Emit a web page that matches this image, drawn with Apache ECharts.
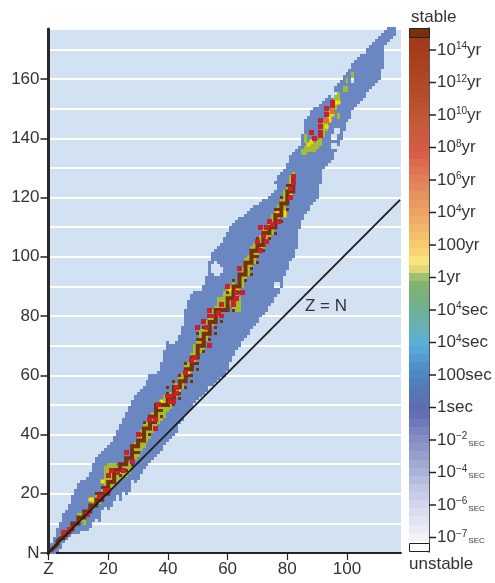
<!DOCTYPE html>
<html><head><meta charset="utf-8">
<style>html,body{margin:0;padding:0;background:#fff}#c{width:495px;height:583px}</style>
<script src="https://cdn.jsdelivr.net/npm/echarts@6/dist/echarts.min.js"></script>
</head><body><div id="c"></div>
<script>
// Known-nuclide band: for proton number Z = 1, 2, ... the lowest and highest neutron number drawn
const bandLow = [0,0,1,2,4,5,6,7,7,7,8,8,8,9,11,12,11,15,16,15,16,18,20,18,21,20,21,25,24,25,27,29,30,31,32,33,34,35,37,38,39,40,41,44,45,47,48,49,51,52,53,54,55,57,57,58,59,60,60,62,65,67,69,70,72,73,74,76,77,78,80,81,82,84,85,87,88,90,94,96,99,100,103,110,113,115,116,118,119,120,125,130,131,132,133,136,138,140,143,146,147,150,151,152,153,154,156,157,158,159,160,164,172,173,174,175];
const bandHigh = [3,5,8,10,13,14,16,19,21,23,24,24,25,27,30,32,33,34,35,36,37,39,41,43,45,47,49,51,53,54,55,56,58,60,60,60,61,64,68,71,70,70,71,73,76,82,85,87,88,88,88,90,93,98,101,102,103,104,106,108,110,111,112,113,113,114,115,116,117,117,118,119,119,120,121,125,127,128,129,131,134,135,136,137,141,146,147,149,150,150,151,152,153,154,155,157,158,159,161,162,163,165,166,167,168,168,170,171,172,173,174,175,176,177,177,177];
// Pale holes inside the band: [Z, N]
const bandGaps = [[55,95],[55,96],[55,97],[56,94],[56,95],[56,96],[56,97],[56,98],[57,94],[57,95],[57,96],[57,97],[58,95],[58,96],[76,90],[76,91],[77,90],[77,91],[102,159],[102,160],[95,154],[95,155],[96,154],[96,155],[96,142],[96,143],[97,142],[97,143],[95,140],[95,141],[96,140],[96,141],[95,137],[95,138],[96,137],[96,138],[76,123],[76,124]];
// Half-life classes: runs [Z, first N, last N] and single cells [Z, N]
const greenRuns = [[10,12,13],[11,11,13],[12,10,13],[15,17,18],[16,16,19],[17,17,20],[18,18,22],[19,22,29],[20,22,30],[21,22,30],[22,23,30],[23,24,29],[24,25,29],[25,26,30],[26,26,30],[27,27,30],[28,31,36],[29,32,37],[30,33,40],[31,35,41],[32,36,43],[33,38,44],[34,39,44],[35,41,47],[36,42,48],[37,44,50],[38,45,51],[39,46,53],[40,48,53],[41,49,54],[42,50,56],[43,53,57],[44,54,59],[45,56,60],[46,58,63],[47,60,64],[48,62,67],[49,64,70],[50,66,72],[51,68,75],[52,69,76],[53,72,78],[54,74,80],[55,77,82],[56,78,83],[57,80,86],[58,82,86],[59,82,88],[60,82,89],[61,84,90],[62,83,91],[63,82,87],[64,82,86],[64,88,94],[65,90,96],[66,92,99],[67,94,100],[68,96,103],[69,98,104],[70,100,106],[71,102,107],[72,103,109],[73,105,110],[74,107,112],[75,108,114],[76,110,116],[77,112,117],[78,114,120],[79,116,122],[80,118,124],[81,120,127],[82,122,128],[85,135,136],[86,135,137],[86,139,141],[87,136,137],[88,136,138],[89,136,138],[90,137,139],[91,138,141],[92,141,145],[93,143,146],[94,146,149],[95,148,152],[96,150,154],[97,147,148],[97,153,155],[99,156,157],[100,156,157],[100,159,160],[102,161,162]];
const yellowCells = [[14,18],[15,18],[18,24],[28,35],[38,51],[47,61],[61,89],[62,89],[63,89],[77,115],[79,114],[79,115],[80,121],[81,121],[87,138],[88,139],[89,140],[93,144],[94,146],[94,147],[95,148],[96,152],[97,152]];
const stableCells = [[16,20],[17,20],[18,22],[19,22],[20,22],[20,26],[21,24],[22,25],[24,26],[24,29],[26,28],[26,31],[27,32],[28,30],[28,33],[29,34],[30,34],[31,38],[31,40],[32,40],[32,44],[33,42],[34,40],[34,44],[35,44],[36,42],[36,44],[36,48],[37,48],[38,46],[38,48],[39,50],[40,54],[40,56],[41,52],[42,50],[42,54],[42,58],[44,52],[44,54],[44,60],[45,58],[46,56],[46,60],[46,64],[47,60],[47,62],[48,58],[48,60],[48,64],[49,64],[50,62],[50,64],[50,68],[50,72],[50,74],[51,70],[51,72],[52,68],[52,72],[52,76],[53,74],[54,70],[54,72],[54,76],[54,80],[54,82],[55,78],[56,74],[56,76],[56,80],[57,82],[58,78],[58,80],[58,84],[59,82],[60,84],[60,88],[60,90],[62,82],[62,88],[62,92],[63,90],[64,88],[64,92],[64,96],[65,94],[66,92],[66,96],[67,98],[68,94],[68,96],[68,100],[69,100],[70,98],[70,100],[70,106],[71,104],[72,102],[72,106],[73,108],[74,106],[74,112],[75,110],[76,108],[76,112],[76,116],[77,114],[77,116],[78,112],[78,116],[78,120],[79,118],[80,116],[80,120],[80,124],[81,122],[81,124],[82,124]];
const pathZ = [1,2,3,3,4,5,5,6,6,7,7,8,8,10,10,12,12,14,14,16,16,18,18,20,20,22,22,24,24,26,26,28,28,30,30,32,32,34,34,36,36,38,40,40,42,42,44,44,46,46,48,48,50,50,52,52,54,54,56,56,58,60,60,62,62,64,64,66,66,68,68,70,70,72,72,74,74,76,76,78,78,80,80,82,82];
const pathN = [1,2,3,4,5,5,6,6,7,7,8,8,10,10,12,12,14,14,16,16,18,18,20,20,24,24,28,28,30,30,32,32,36,36,38,38,42,42,46,46,50,50,50,52,52,56,56,58,58,62,62,66,66,70,70,74,74,78,78,82,82,82,86,86,90,90,94,94,98,98,102,102,104,104,108,108,110,110,114,114,118,118,122,122,126];
const redCells = [[5,7],[7,8],[13,13],[17,19],[19,21],[20,21],[20,26],[21,28],[23,27],[25,28],[26,34],[28,31],[30,40],[34,45],[36,45],[36,42],[37,50],[41,51],[42,51],[40,53],[41,53],[43,54],[43,56],[46,61],[48,65],[49,66],[50,76],[52,78],[53,76],[54,70],[54,82],[54,80],[55,80],[57,81],[58,80],[58,84],[60,90],[62,84],[62,85],[63,86],[63,88],[65,88],[64,96],[71,102],[70,105],[72,107],[73,105],[73,110],[71,110],[74,112],[75,111],[77,112],[81,120],[81,123],[82,125],[82,127],[88,142],[91,144],[91,142],[89,140],[91,141],[91,146],[93,150],[93,148],[95,152],[95,151]];
const orangeCells = [[95,149],[93,146]];
// Colour scale: band limits on the tick index (0 = 10^14yr ... 15 = 10^-7 sec) and colours
const scaleStops = [-0.4,-0.15,0.1,0.35,0.6,0.85,1.1,1.35,1.6,1.85,2.1,2.35,2.6,2.85,3.1,3.35,3.6,3.85,4.1,4.35,4.6,4.85,5.1,5.35,5.6,5.85,6.1,6.35,6.6,6.85,7.1,7.35,7.6,7.85,8.1,8.35,8.6,8.85,9.1,9.35,9.6,9.85,10.1,10.35,10.6,10.85,11.1,11.35,11.6,11.85,12.1,12.35,12.6,12.85,13.1,13.35,13.6,13.85,14.1,14.35,14.6,14.85,15.1,15.3];
const scaleColors = ['#a03a1a','#a43c1c','#a63f1e','#a94220','#ac4523','#ae4826','#b24b29','#b54e2c','#ba5130','#be5534','#c45839','#c95a3d','#ce5b41','#d35c45','#d85e49','#dc6a50','#df7455','#e27e58','#e4885b','#e6925e','#e99a60','#eba263','#eeac66','#f1b669','#f4c06c','#f7ca70','#f9d474','#fce47c','#e0d878','#a0c070','#80b46e','#7cb278','#76b084','#70b092','#6cb0a2','#68b0b2','#60b0c6','#5aaed8','#56a8da','#529cd2','#4e90c8','#4e88c2','#4f80bc','#5478b8','#5a72b6','#5e6cb2','#646eb6','#7078bc','#7a84c2','#848dc6','#8c95ca','#969ece','#a0a8d4','#abb2da','#b6bce0','#c0c6e4','#c8cce8','#d2d5ec','#dadcf0','#e2e4f2','#eaebf6','#f2f3fa','#ffffff'];
const scaleTicks = [['10','14','yr'],['10','12','yr'],['10','10','yr'],['10','8','yr'],['10','6','yr'],['10','4','yr'],['100','','yr'],['1','','yr'],['10','4','sec'],['10','4','sec'],['100','','sec'],['1','','sec'],['10','−2','SEC'],['10','−4','SEC'],['10','−6','SEC'],['10','−7','SEC']];
// Z = N reference line, read end to end
const lineZ = [-5.2, 117.75];
const lineN = [-5.06, 119.2];

const FONT = 'Liberation Sans, Helvetica, Arial, sans-serif', INK = '#333';
const bandCells = [];
const gapKey = new Set(bandGaps.map(g => g.join()));
bandLow.forEach((lo, i) => {
  const z = i + 1;
  for (let n = lo; n <= bandHigh[i]; n++) if (!gapKey.has(z + ',' + n)) bandCells.push([z, n]);
});
const greenCells = [];
greenRuns.forEach(r => { for (let n = r[1]; n <= r[2]; n++) greenCells.push([r[0], n]); });

function cellSeries(data, color, grow, z) {
  return { type: 'custom', xAxisIndex: 0, yAxisIndex: 0, silent: true, z: z, clip: false, data: data,
    renderItem: (p, api) => {
      const zv = api.value(0), nv = api.value(1);
      const a = api.coord([zv - 0.5, nv + 0.5]), b = api.coord([zv + 0.5, nv - 0.5]);
      const x0 = Math.round(a[0]) - grow, y0 = Math.round(a[1]) - grow;
      const x1 = Math.round(b[0]) + grow, y1 = Math.round(b[1]) + grow;
      return { type: 'rect', shape: { x: x0, y: y0, width: x1 - x0, height: y1 - y0 }, style: { fill: color } };
    } };
}
const scaleData = scaleColors.map((c, i) => [scaleStops[i], scaleStops[i + 1], c]);
const chart = echarts.init(document.getElementById('c'), null, { renderer: 'canvas' });
const rich = { b: { fontSize: 17, color: INK, fontFamily: FONT }, s: { fontSize: 10, color: INK, fontFamily: FONT, padding: [0, 0, 7, 0] }, c: { fontSize: 8, color: INK, fontFamily: FONT, padding: [7, 0, 0, 1] } };
chart.setOption({
  animation: false,
  grid: [
    { left: 48.5, top: 29, width: 352.5, height: 524, show: true, backgroundColor: '#d3e2f3', borderWidth: 0 },
    { left: 409, top: 28, width: 20, height: 524, show: false }
  ],
  xAxis: [
    { type: 'value', gridIndex: 0, min: 0, max: 118.09, interval: 20,
      axisLine: { show: true, onZero: false, lineStyle: { color: '#222', width: 2 } },
      axisTick: { show: true, length: 7, lineStyle: { color: '#222', width: 1.2 } }, splitLine: { show: false },
      axisLabel: { color: INK, fontSize: 17, fontFamily: FONT, margin: 8, showMaxLabel: false, formatter: v => v === 0 ? 'Z' : String(v) } },
    { type: 'value', gridIndex: 1, min: 0, max: 1, show: false }
  ],
  yAxis: [
    { type: 'value', gridIndex: 0, min: 0, max: 176.88, interval: 20,
      axisLine: { show: true, onZero: false, lineStyle: { color: '#2a2a2e', width: 3 } },
      axisTick: { show: true, length: 8, lineStyle: { color: '#222', width: 1.5 } },
      minorTick: { show: false, splitNumber: 2 },
      splitLine: { show: true, lineStyle: { color: '#fff', width: 2 } },
      minorSplitLine: { show: true, lineStyle: { color: '#fff', width: 2 } },
      axisLabel: { color: INK, fontSize: 17, fontFamily: FONT, margin: 9, showMaxLabel: false, formatter: v => v === 0 ? 'N' : String(v) } },
    { type: 'value', gridIndex: 1, position: 'right', inverse: true, min: -0.677, max: 15.446, interval: 1,
      axisLine: { show: true, onZero: false, lineStyle: { color: '#222', width: 1.5 } },
      axisTick: { show: false }, splitLine: { show: false }, axisLabel: { show: false } }
  ],
  series: [
    cellSeries(bandCells, '#6b87c2', 0, 2),
    cellSeries(greenCells, '#a3bd2e', 0, 3),
    cellSeries(yellowCells, '#f5dc00', 0.5, 4),
    cellSeries(stableCells, '#7a3008', 0, 5),
    { type: 'line', xAxisIndex: 0, yAxisIndex: 0, silent: true, z: 5, clip: false, symbol: 'none',
      data: pathZ.map((z, i) => [z, pathN[i]]), lineStyle: { color: '#7a3008', width: 4, join: 'miter', cap: 'square' } },
    cellSeries(redCells, '#c8202c', 1, 6),
    cellSeries(orangeCells, '#e8701c', 1, 6),
    { type: 'line', xAxisIndex: 0, yAxisIndex: 0, silent: true, z: 8, clip: false, symbol: 'none',
      data: lineZ.map((z, i) => [z, lineN[i]]), lineStyle: { color: '#1c1c1c', width: 1.8 } },
    { type: 'custom', xAxisIndex: 1, yAxisIndex: 1, silent: true, z: 3, clip: false,
      data: scaleData,
      renderItem: (p, api) => {
        const a = api.coord([0, api.value(0)]), b = api.coord([1, api.value(1)]);
        const y0 = Math.round(a[1]), y1 = Math.round(b[1]);
        return { type: 'rect', shape: { x: a[0], y: y0, width: b[0] - a[0], height: y1 - y0 }, style: { fill: scaleColors[p.dataIndex] } };
      } },
    { type: 'custom', xAxisIndex: 1, yAxisIndex: 1, silent: true, z: 4, clip: false,
      data: scaleTicks.map((t, i) => [i, t]),
      renderItem: (p, api) => {
        const c = api.coord([1, p.dataIndex]), t = scaleTicks[p.dataIndex];
        const txt = '{b|' + t[0] + '}' + (t[1] ? '{s|' + t[1] + '}' : '') + (t[2] === 'SEC' ? '{c|SEC}' : '{b|' + t[2] + '}');
        return { type: 'group', children: [
          { type: 'line', shape: { x1: c[0], y1: c[1], x2: c[0] + 7, y2: c[1] }, style: { stroke: '#222', lineWidth: 1.5 } },
          { type: 'text', x: c[0] + 8, y: c[1], style: { text: txt, rich: rich, verticalAlign: 'middle', align: 'left', fill: INK } }
        ] };
      } }
  ],
  graphic: [
    { type: 'rect', z: 20, shape: { x: 409.5, y: 28.5, width: 20, height: 9 }, style: { fill: '#7a3008', stroke: '#222', lineWidth: 1 } },
    { type: 'rect', z: 20, shape: { x: 409.5, y: 543.5, width: 20, height: 8 }, style: { fill: '#fff', stroke: '#222', lineWidth: 1 } },
    { type: 'text', z: 20, x: 411, y: 9, style: { text: 'stable', font: '17px ' + FONT, fill: INK } },
    { type: 'text', z: 20, x: 409, y: 556, style: { text: 'unstable', font: '17px ' + FONT, fill: INK } },
    { type: 'text', z: 20, x: 305, y: 298, style: { text: 'Z = N', font: '17px ' + FONT, fill: INK } }
  ]
});
</script></body></html>
